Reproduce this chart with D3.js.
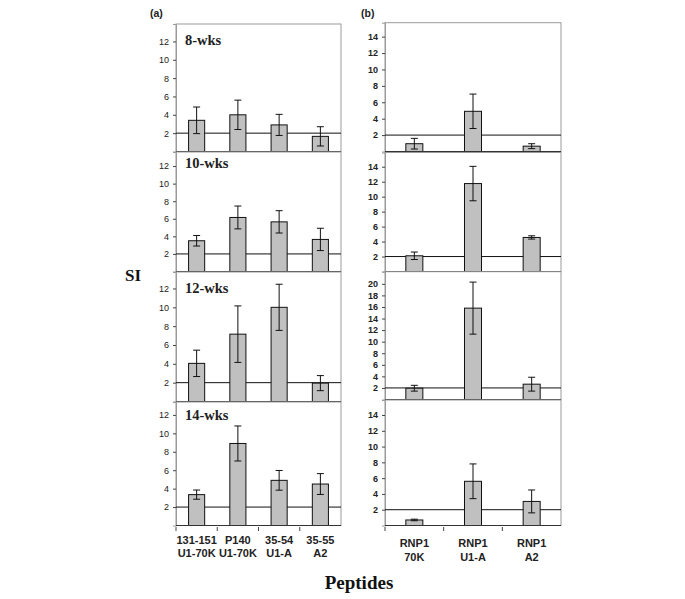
<!DOCTYPE html>
<html><head><meta charset="utf-8">
<script src="https://cdn.jsdelivr.net/npm/d3@7/dist/d3.min.js"></script>
<style>body{margin:0;background:#fff}svg{display:block}</style>
</head><body>
<svg id="c" width="685" height="599"></svg>
<script>
// ---------- data ----------
const leftCategories = [["131-151","U1-70K"],["P140","U1-70K"],["35-54","U1-A"],["35-55","A2"]];
const rightCategories = [["RNP1","70K"],["RNP1","U1-A"],["RNP1","A2"]];
const weekLabels = ["8-wks","10-wks","12-wks","14-wks"];

const left8Values = [3.4, 4.0, 2.9, 1.65],  left8Err = [1.45, 1.6, 1.15, 1.05];
const left10Values = [3.5, 6.15, 5.65, 3.65], left10Err = [0.6, 1.3, 1.27, 1.27];
const left12Values = [4.05, 7.15, 10.0, 1.95], left12Err = [1.4, 3.0, 2.45, 0.8];
const left14Values = [3.35, 8.9, 4.9, 4.5],  left14Err = [0.5, 1.9, 1.07, 1.13];

const right8Values = [0.95, 4.9, 0.65],  right8Err = [0.65, 2.1, 0.3];
const right10Values = [2.1, 11.75, 4.55], right10Err = [0.5, 2.3, 0.22];
const right12Values = [1.95, 15.8, 2.65], right12Err = [0.5, 4.5, 1.2];
const right14Values = [0.7, 5.6, 3.05],  right14Err = [0.1, 2.2, 1.45];

const threshold = 2;
const leftTicks = [2,4,6,8,10,12];
const rightTicks = [2,4,6,8,10,12,14];
const rightTicksBig = [2,4,6,8,10,12,14,16,18,20];

// ---------- layout ----------
const svg = d3.select("#c");
const L = {x0:176, x1:341, pad:0.61, tickBold:false};
const R = {x0:385, x1:561, pad:0.71, tickBold:true};
const panels = [
  {col:L, cats:leftCategories, v:left8Values,  e:left8Err,  top:24,  bot:151.5, max:13.9, ticks:leftTicks, label:weekLabels[0], lo:21},
  {col:L, cats:leftCategories, v:left10Values, e:left10Err, top:152, bot:271.5, max:13.6, ticks:leftTicks, label:weekLabels[1], lo:16},
  {col:L, cats:leftCategories, v:left12Values, e:left12Err, top:272, bot:401.5, max:13.75, ticks:leftTicks, label:weekLabels[2], lo:21},
  {col:L, cats:leftCategories, v:left14Values, e:left14Err, top:402, bot:525.5, max:13.4, ticks:leftTicks, label:weekLabels[3], lo:18, axis:true},
  {col:R, cats:rightCategories, v:right8Values,  e:right8Err,  top:22.7, bot:151.5, max:15.7, ticks:rightTicks},
  {col:R, cats:rightCategories, v:right10Values, e:right10Err, top:152.5, bot:271.5, max:15.9, ticks:rightTicks},
  {col:R, cats:rightCategories, v:right12Values, e:right12Err, top:271.7, bot:399.5, max:22.1, ticks:rightTicksBig},
  {col:R, cats:rightCategories, v:right14Values, e:right14Err, top:400, bot:525.5, max:15.9, ticks:rightTicks, axis:true},
];

panels.forEach(p => {
  const c = p.col;
  const idx = p.cats.map((d,i)=>i);
  const x = d3.scaleBand().domain(idx).range([c.x0, c.x1]).paddingInner(c.pad).paddingOuter(c.pad/2);
  const y = d3.scaleLinear().domain([0, p.max]).range([p.bot, p.top]);
  const g = svg.append("g");

  // frame
  g.append("rect").attr("x", c.x0).attr("y", p.top).attr("width", c.x1-c.x0).attr("height", p.bot-p.top)
    .attr("fill","none").attr("stroke","#9a9a9a").attr("stroke-width",1);

  // y axis
  const ya = g.append("g").attr("transform", `translate(${c.x0},0)`)
    .call(d3.axisLeft(y).tickValues(p.ticks).tickSize(3).tickPadding(4).tickFormat(d3.format("d")));
  ya.select(".domain").attr("stroke","#9a9a9a");
  ya.selectAll(".tick line").attr("stroke","#444");
  ya.selectAll("text").attr("font-family","Liberation Sans, Arial, sans-serif")
    .attr("font-size", 9).attr("font-weight", c.tickBold ? "bold" : "normal").attr("fill","#222");

  // threshold line
  g.append("line").attr("x1", c.x0).attr("x2", c.x1).attr("y1", y(threshold)).attr("y2", y(threshold))
    .attr("stroke","#111").attr("stroke-width",1);

  // bars
  g.selectAll("rect.bar").data(p.v).join("rect").attr("class","bar")
    .attr("x",(d,i)=>x(i)).attr("width", x.bandwidth())
    .attr("y", d=>y(d)).attr("height", d=>y(0)-y(d))
    .attr("fill","#c0c0c0").attr("stroke","#111").attr("stroke-width",1);

  // error bars
  const cap = 3.5;
  p.v.forEach((d,i) => {
    const cx = x(i) + x.bandwidth()/2;
    const hi = y(d + p.e[i]), lo = y(Math.max(0, d - p.e[i]));
    g.append("line").attr("x1",cx).attr("x2",cx).attr("y1",hi).attr("y2",lo).attr("stroke","#111");
    g.append("line").attr("x1",cx-cap).attr("x2",cx+cap).attr("y1",hi).attr("y2",hi).attr("stroke","#111");
    g.append("line").attr("x1",cx-cap).attr("x2",cx+cap).attr("y1",lo).attr("y2",lo).attr("stroke","#111");
  });

  // baseline
  g.append("line").attr("x1", c.x0).attr("x2", c.x1).attr("y1", p.bot).attr("y2", p.bot)
    .attr("stroke","#333").attr("stroke-width",1);

  // week label
  if (p.label) {
    g.append("text").attr("x", c.x0 + 9).attr("y", p.top + p.lo).text(p.label)
      .attr("font-family","Liberation Serif, Times New Roman, serif").attr("font-weight","bold")
      .attr("font-size", 14.5).attr("fill","#222");
  }

  // x axis with category labels
  if (p.axis) {
    const step = x.step();
    const bounds = idx.map(i => c.x0 + step*i);
    g.selectAll("line.xt").data(bounds).join("line").attr("class","xt")
      .attr("x1", d=>d).attr("x2", d=>d).attr("y1", p.bot+1.5).attr("y2", p.bot+5.5)
      .attr("stroke","#444");
    const t = g.selectAll("text.xl").data(p.cats).join("text").attr("class","xl")
      .attr("text-anchor","middle")
      .attr("font-family","Liberation Sans, Arial, sans-serif").attr("font-weight","bold")
      .attr("font-size", 11).attr("fill","#222");
    t.each(function(d,i){
      const cx = x(i) + x.bandwidth()/2;
      const base = c === L ? p.bot + 18 : p.bot + 21.5;
      d3.select(this).append("tspan").attr("x", cx).attr("y", base).text(d[0]);
      d3.select(this).append("tspan").attr("x", cx).attr("y", base + 13.5).text(d[1]);
    });
  }
});

// panel tags and axis titles
svg.append("text").attr("x",150).attr("y",17).text("(a)")
  .attr("font-family","Liberation Sans, Arial, sans-serif").attr("font-weight","bold").attr("font-size",10.5).attr("fill","#222");
svg.append("text").attr("x",361).attr("y",17).text("(b)")
  .attr("font-family","Liberation Sans, Arial, sans-serif").attr("font-weight","bold").attr("font-size",10.5).attr("fill","#222");
svg.append("text").attr("x",125).attr("y",281).text("SI")
  .attr("font-family","Liberation Serif, Times New Roman, serif").attr("font-weight","bold").attr("font-size",17).attr("fill","#111");
svg.append("text").attr("x",359).attr("y",589).attr("text-anchor","middle").text("Peptides")
  .attr("font-family","Liberation Serif, Times New Roman, serif").attr("font-weight","bold").attr("font-size",19).attr("fill","#111");
</script>
</body></html>
